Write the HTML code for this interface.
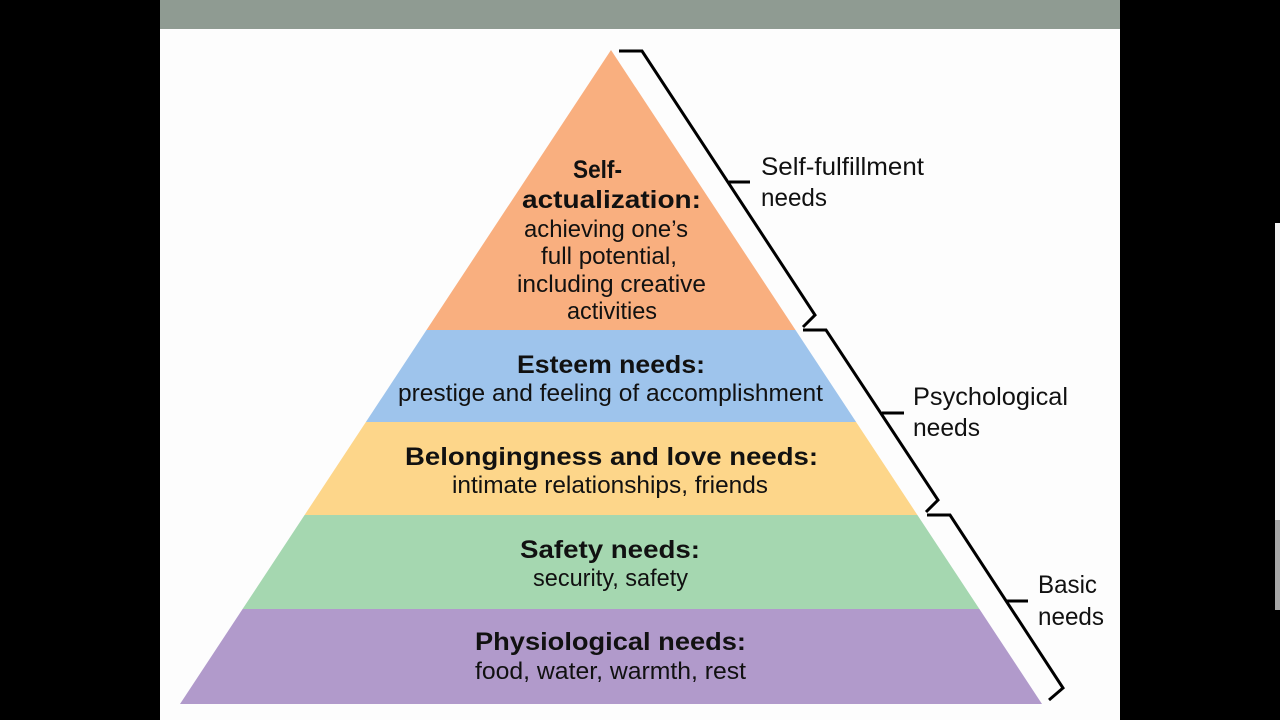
<!DOCTYPE html>
<html>
<head>
<meta charset="utf-8">
<style>
html,body{margin:0;padding:0;background:#000;}
svg{display:block;}
text{font-family:"Liberation Sans",sans-serif;fill:#111;}
.b{font-weight:bold;font-size:25px;}
.r{font-size:24px;}
.l{font-size:25px;}
</style>
</head>
<body>
<svg width="1280" height="720" viewBox="0 0 1280 720" xmlns="http://www.w3.org/2000/svg">
  <rect x="0" y="0" width="1280" height="720" fill="#000"/>
  <rect x="160" y="0" width="960" height="720" fill="#fdfdfd"/>
  <rect x="160" y="0" width="960" height="29" fill="#8f9b92"/>
  <rect x="1275" y="223" width="5" height="297" fill="#f4f4f4"/>
  <rect x="1275" y="520" width="5" height="90" fill="#a8a8a8"/>

  <!-- pyramid bands -->
  <polygon points="611,50 795.5,330 426.5,330" fill="#f9af7f"/>
  <polygon points="426.5,330 795.5,330 856.1,422 365.9,422" fill="#9ec4ec"/>
  <polygon points="365.9,422 856.1,422 917.4,515 304.6,515" fill="#fdd68a"/>
  <polygon points="304.6,515 917.4,515 979.4,609 242.6,609" fill="#a5d7b0"/>
  <polygon points="242.6,609 979.4,609 1042,704 180,704" fill="#b19acb"/>

  <!-- brackets -->
  <g fill="none" stroke="#000" stroke-width="3" stroke-linejoin="miter">
    <polyline points="619,51 642,51 815,315 803,327"/>
    <line x1="729" y1="182" x2="750" y2="182"/>
    <polyline points="803,330 826,330 938,500 926,512"/>
    <line x1="882" y1="413" x2="904" y2="413"/>
    <polyline points="927,515 950,515 1063,688 1049,700"/>
    <line x1="1006" y1="601" x2="1028" y2="601"/>
  </g>

  <!-- pyramid text -->
  <text class="b" x="573" y="178" textLength="49" lengthAdjust="spacingAndGlyphs">Self-</text>
  <text class="b" x="522" y="208" textLength="179" lengthAdjust="spacingAndGlyphs">actualization:</text>
  <text class="r" x="524" y="237" textLength="164" lengthAdjust="spacingAndGlyphs">achieving one’s</text>
  <text class="r" x="541" y="264" textLength="136" lengthAdjust="spacingAndGlyphs">full potential,</text>
  <text class="r" x="517" y="292" textLength="189" lengthAdjust="spacingAndGlyphs">including creative</text>
  <text class="r" x="567" y="319" textLength="90" lengthAdjust="spacingAndGlyphs">activities</text>

  <text class="b" x="517" y="373" textLength="188" lengthAdjust="spacingAndGlyphs">Esteem needs:</text>
  <text class="r" x="398" y="401" textLength="425" lengthAdjust="spacingAndGlyphs">prestige and feeling of accomplishment</text>

  <text class="b" x="405" y="465" textLength="413" lengthAdjust="spacingAndGlyphs">Belongingness and love needs:</text>
  <text class="r" x="452" y="493" textLength="316" lengthAdjust="spacingAndGlyphs">intimate relationships, friends</text>

  <text class="b" x="520" y="558" textLength="180" lengthAdjust="spacingAndGlyphs">Safety needs:</text>
  <text class="r" x="533" y="586" textLength="155" lengthAdjust="spacingAndGlyphs">security, safety</text>

  <text class="b" x="475" y="650" textLength="271" lengthAdjust="spacingAndGlyphs">Physiological needs:</text>
  <text class="r" x="475" y="679" textLength="271" lengthAdjust="spacingAndGlyphs">food, water, warmth, rest</text>

  <!-- side labels -->
  <text class="l" x="761" y="175" textLength="163" lengthAdjust="spacingAndGlyphs">Self-fulfillment</text>
  <text class="l" x="761" y="206" textLength="66" lengthAdjust="spacingAndGlyphs">needs</text>
  <text class="l" x="913" y="405" textLength="155" lengthAdjust="spacingAndGlyphs">Psychological</text>
  <text class="l" x="913" y="436" textLength="67" lengthAdjust="spacingAndGlyphs">needs</text>
  <text class="l" x="1038" y="593" textLength="59" lengthAdjust="spacingAndGlyphs">Basic</text>
  <text class="l" x="1038" y="625" textLength="66" lengthAdjust="spacingAndGlyphs">needs</text>
</svg>
</body>
</html>
